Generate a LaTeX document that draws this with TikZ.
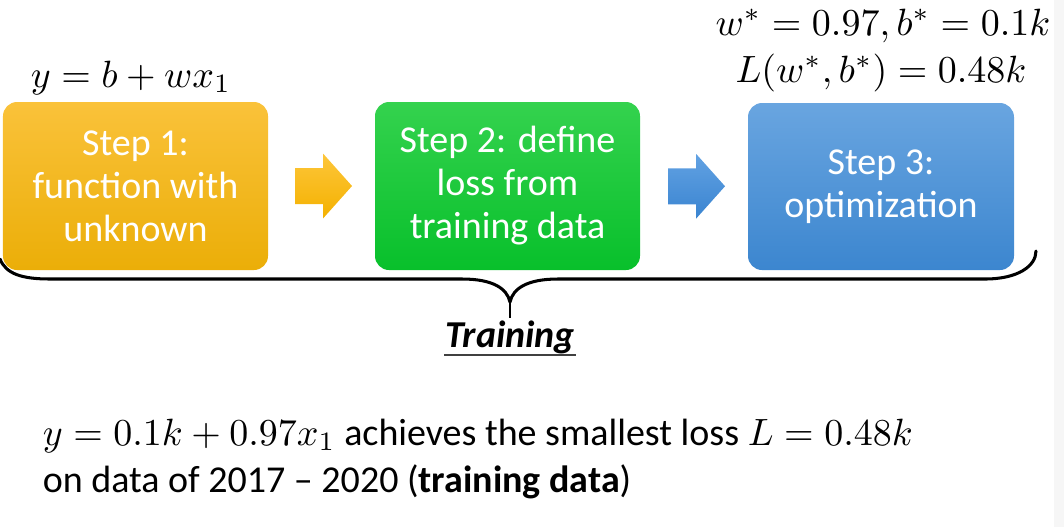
\documentclass[tikz,border=0pt]{standalone}
\usepackage[no-math]{fontspec}
\setmainfont{Carlito}
\usetikzlibrary{calc}
\definecolor{orTop}{HTML}{FAC23A}
\definecolor{orBot}{HTML}{EBAE08}
\definecolor{grTop}{HTML}{34D24E}
\definecolor{grBot}{HTML}{08C02B}
\definecolor{blTop}{HTML}{69A5E0}
\definecolor{blBot}{HTML}{3C86CF}
\definecolor{arOTop}{HTML}{FDC63A}
\definecolor{arOBot}{HTML}{F4B100}
\definecolor{arBTop}{HTML}{62A2E3}
\definecolor{arBBot}{HTML}{3A84D0}
\begin{document}
\begin{tikzpicture}[x=0.2632pt,y=-0.2632pt,
  stepbox/.style={rounded corners=3.7pt, minimum width=265*0.2632pt, minimum height=168*0.2632pt,
    inner sep=0pt, text=white, align=center, font=\fontsize{10}{11.3}\selectfont},
  lab/.style={inner sep=0pt, font=\fontsize{10}{12.3}\selectfont},
  bracestyle/.style={line width=0.8pt, line cap=round, line join=round},
]
\useasboundingbox (0,0) rectangle (1064,527);
\fill[gray!7] (1054,0) rectangle (1064,527);

% step boxes
\node[stepbox, top color=orTop, bottom color=orBot] (s1) at (135.5,186) {Step 1:\\function with\\unknown};
\node[stepbox, top color=grTop, bottom color=grBot] (s2) at (507.5,186) {Step 2: define\\loss from\\training data};
\node[stepbox, minimum width=266*0.2632pt, minimum height=167*0.2632pt, top color=blTop, bottom color=blBot] (s3) at (881,186.5) {Step 3:\\optimization};

% block arrows
\coordinate (a1) at ($($(s1.east)!0.5!(s2.west)$)+(2,0)$);
\coordinate (a2) at ($($(s2.east)!0.5!(s3.west)$)+(2.5,0)$);
\shade[top color=arOTop, bottom color=arOBot]
  (a1) ++(-28.5,-18) -- ++(28,0) -- ++(0,-14.5) -- ++(29,32.5) -- ++(-29,32.5) -- ++(0,-14.5) -- ++(-28,0) -- cycle;
\shade[top color=arBTop, bottom color=arBBot]
  (a2) ++(-28.5,-18) -- ++(28,0) -- ++(0,-14.5) -- ++(29,32.5) -- ++(-29,32.5) -- ++(0,-14.5) -- ++(-28,0) -- cycle;

% formulas
\node[lab, anchor=base west] (f1) at (30,87) {$y=b+wx_1$};
\node[lab, anchor=base] (f2) at (883,35) {$w^*=0.97, b^*=0.1k$};
\node[lab, anchor=base] (f3) at (881,82) {$L(w^*,b^*)=0.48k$};

% brace
\coordinate (bl) at (0,259);
\coordinate (br) at (1036,251);
\coordinate (bt) at (510,302);
\coordinate (bs) at (510,318);
\draw[bracestyle] (bl) .. controls (6,274) and (22,279) .. (50,279) -- (462,279)
  .. controls (492,279) and (507,288) .. (bt)
  .. controls (513,288) and (528,279) .. (558,279) -- (985,279)
  .. controls (1018,279) and (1036,266) .. (br);
\draw[line width=0.66pt] (bt) -- (bs);

% training label
\node[lab, anchor=base, font=\fontsize{10}{12}\selectfont\bfseries\itshape] (tr) at (510,347) {Training};
\draw[line width=0.42pt, black!75] ($(tr.base west)+(0,8)$) -- ($(tr.base east)+(0,8)$);

% bottom text
\node[lab, anchor=base west] (b1) at (42,445) {$y=0.1k+0.97x_1$ achieves the smallest loss $L=0.48k$};
\node[lab, anchor=base west] (b2) at (42,492) {on data of 2017 – 2020 (\textbf{training data})};
\end{tikzpicture}
\end{document}
